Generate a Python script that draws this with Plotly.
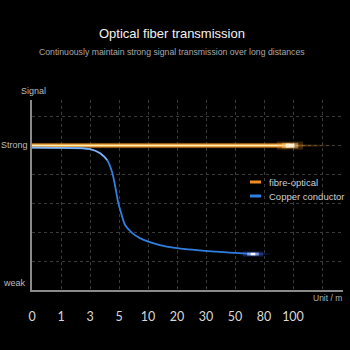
import plotly.graph_objects as go

# ---- data ----
distance_labels = ["0", "1", "3", "5", "10", "20", "30", "50", "80", "100"]
fiber_x = [0, 8.9]
fiber_y = [4.98, 4.98]
copper_x = [0, 1, 2, 2.34, 2.59, 2.76, 2.86, 2.97, 3.07, 3.21, 3.45, 3.72, 4.41, 4.93, 6.07, 7.03, 7.62]
copper_y = [4.91, 4.90, 4.86, 4.72, 4.48, 4.07, 3.62, 3.03, 2.66, 2.24, 1.97, 1.79, 1.55, 1.45, 1.34, 1.28, 1.24]
series_names = ["fibre-optical", "Copper conductor"]

ORANGE = "#f08a24"
BLUE = "#2f7fe0"
FONT = "Liberation Sans"

fig = go.Figure()

# fibre-optical line, layered for glow
for w, c in [(5.5, "rgba(230,130,30,0.25)"), (4, "rgba(235,150,45,0.95)"), (1.5, "rgba(255,238,175,1)")]:
    fig.add_trace(go.Scatter(x=fiber_x, y=fiber_y, mode="lines", line=dict(color=c, width=w),
                             hoverinfo="skip", showlegend=False))
# trailing fade after the end of the fibre line
end_x, end_y = fiber_x[-1], fiber_y[-1]
n = 10
for i in range(n):
    a = 0.5 * (1 - i / n)
    fig.add_trace(go.Scatter(x=[end_x + 0.15 * i, end_x + 0.15 * (i + 1)], y=[end_y, end_y], mode="lines",
                             line=dict(color=f"rgba(240,150,50,{a:.3f})", width=2),
                             hoverinfo="skip", showlegend=False))
# bright flare at fibre end
for dx, w, c in [(0.45, 8, "rgba(255,160,50,0.22)"), (0.28, 5.5, "rgba(255,200,110,0.5)"), (0.15, 4, "rgba(255,245,220,0.95)")]:
    fig.add_trace(go.Scatter(x=[end_x - dx, end_x + dx], y=[end_y, end_y], mode="lines",
                             line=dict(color=c, width=w), hoverinfo="skip", showlegend=False))

# copper conductor curve
fig.add_trace(go.Scatter(x=copper_x, y=copper_y, mode="lines",
                         line=dict(color=BLUE, width=1.8, shape="spline", smoothing=0.8),
                         hoverinfo="skip", showlegend=False))
fig.add_trace(go.Scatter(x=copper_x[:5], y=copper_y[:5], mode="lines",
                         line=dict(color="rgba(190,220,255,0.6)", width=1.6, shape="spline", smoothing=0.8),
                         hoverinfo="skip", showlegend=False))
cx, cy = copper_x[-1], copper_y[-1]
for i in range(6):
    a = 0.5 * (1 - i / 6)
    fig.add_trace(go.Scatter(x=[cx + 0.1 * i, cx + 0.1 * (i + 1)], y=[cy, cy], mode="lines",
                             line=dict(color=f"rgba(60,120,255,{a:.3f})", width=1.8),
                             hoverinfo="skip", showlegend=False))
for dx, w, c in [(0.35, 5, "rgba(70,110,255,0.3)"), (0.2, 3, "rgba(170,190,255,0.7)"), (0.08, 2.5, "rgba(245,248,255,1)")]:
    fig.add_trace(go.Scatter(x=[cx - dx, cx + dx], y=[cy, cy], mode="lines",
                             line=dict(color=c, width=w), hoverinfo="skip", showlegend=False))

x_ticks = list(range(len(distance_labels) + 1))
x_text = distance_labels + [""]

fig.update_layout(
    width=350, height=350,
    margin=dict(l=32, r=7, t=100, b=60),
    paper_bgcolor="#000", plot_bgcolor="#000",
    showlegend=False,
    xaxis=dict(range=[0, 311 / 29], tickvals=x_ticks, ticktext=x_text, showgrid=True,
               gridcolor="#3a3a3a", griddash="3px,3px", gridwidth=1, zeroline=False,
               showline=True, linecolor="#8a8a8a", linewidth=1.5, ticks="",
               tickfont=dict(family="Lato", size=12.5, color="#d8d8d8"), ticklabelstandoff=14,
               fixedrange=True),
    yaxis=dict(range=[0, 190 / 29], tickvals=[1, 2, 3, 4, 5, 6], showticklabels=False, showgrid=True,
               gridcolor="#3a3a3a", griddash="3px,3px", gridwidth=1, zeroline=False,
               showline=True, linecolor="#8a8a8a", linewidth=1.5, ticks="", fixedrange=True),
)

def py(p):
    return (290 - p) / 190

def px(p):
    return (p - 32) / 311

ann = [
    dict(text="Optical fiber transmission", x=px(171.5), xref="paper", xanchor="center", y=py(33), yref="paper",
         yanchor="middle", font=dict(family=FONT, size=13, color="#f2f2f2"), showarrow=False),
    dict(text="Continuously maintain strong signal transmission over long distances", x=px(171.5), xref="paper",
         xanchor="center", y=py(52), yref="paper", yanchor="middle",
         font=dict(family=FONT, size=8.7, color="#a8a8a8"), showarrow=False),
    dict(text="Signal", x=px(33), xref="paper", xanchor="center", y=py(91), yref="paper", yanchor="middle",
         font=dict(family=FONT, size=9, color="#bdbdbd"), showarrow=False),
    dict(text="Strong", x=px(29.5), xref="paper", xanchor="right", y=5, yref="y", yanchor="middle",
         font=dict(family=FONT, size=9, color="#bdbdbd"), showarrow=False),
    dict(text="weak", x=px(27.5), xref="paper", xanchor="right", y=py(283), yref="paper", yanchor="middle",
         font=dict(family=FONT, size=9, color="#bdbdbd"), showarrow=False),
    dict(text="Unit / m", x=px(344), xref="paper", xanchor="right", y=py(298), yref="paper", yanchor="middle",
         font=dict(family=FONT, size=8.5, color="#b0b0b0"), showarrow=False),
    dict(text=series_names[0], x=px(267), xref="paper", xanchor="left", y=py(182), yref="paper",
         yanchor="middle", font=dict(family=FONT, size=9.5, color="#cfcfcf"), showarrow=False),
    dict(text=series_names[1], x=px(267), xref="paper", xanchor="left", y=py(196), yref="paper",
         yanchor="middle", font=dict(family=FONT, size=9.5, color="#cfcfcf"), showarrow=False),
]
fig.update_layout(annotations=ann)

shapes = [
    dict(type="line", xref="paper", yref="paper", x0=px(250), x1=px(261), y0=py(182), y1=py(182),
         line=dict(color=ORANGE, width=3)),
    dict(type="line", xref="paper", yref="paper", x0=px(250), x1=px(261), y0=py(196), y1=py(196),
         line=dict(color=BLUE, width=3)),
]
fig.update_layout(shapes=shapes)

fig.write_html("out.html")
